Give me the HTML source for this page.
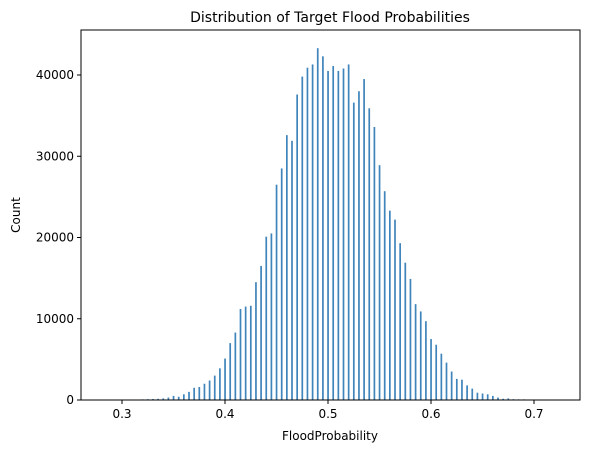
<!DOCTYPE html>
<html><head><meta charset="utf-8"><style>
body{margin:0;background:#fff;font-family:"Liberation Sans","DejaVu Sans",sans-serif}
svg text{font-family:"DejaVu Sans","Liberation Sans",sans-serif}
</style></head><body>
<svg id="chart" width="589" height="453" xmlns="http://www.w3.org/2000/svg">
<text x="330" y="22" font-size="14" text-anchor="middle">Distribution of Target Flood Probabilities</text>
<g id="bars"></g>
<g id="axes"></g>
<rect x="81" y="30" width="499" height="370" fill="none" stroke="#000" stroke-width="1"/>
<text x="330" y="440" font-size="12" text-anchor="middle">FloodProbability</text>
<text x="20" y="215" font-size="12" text-anchor="middle" transform="rotate(-90 20 215)">Count</text>
</svg>
<script>
const binStarts = [0.285,0.29,0.295,0.30,0.305,0.31,0.315,0.32,0.325,0.33,0.335,0.34,0.345,0.35,0.355,0.36,0.365,0.37,0.375,0.38,0.385,0.39,0.395,0.40,0.405,0.41,0.415,0.42,0.425,0.43,0.435,0.44,0.445,0.45,0.455,0.46,0.465,0.47,0.475,0.48,0.485,0.49,0.495,0.50,0.505,0.51,0.515,0.52,0.525,0.53,0.535,0.54,0.545,0.55,0.555,0.56,0.565,0.57,0.575,0.58,0.585,0.59,0.595,0.60,0.605,0.61,0.615,0.62,0.625,0.63,0.635,0.64,0.645,0.65,0.655,0.66,0.665,0.67,0.675,0.68,0.685,0.69,0.695,0.70,0.705,0.71,0.715,0.72,0.725];
const counts = [5,5,10,15,20,30,60,80,100,120,150,200,300,500,400,700,1000,1500,1600,2000,2400,3000,3900,5100,7000,8300,11200,11500,11600,14500,16500,20100,20500,26500,28500,32600,31900,37600,39800,40900,41300,43300,42300,40500,41100,40500,40800,41300,36600,38000,39500,35900,33600,28900,25700,23300,22200,19300,16900,14900,11800,10900,9700,7500,6800,5700,4600,3500,2600,2500,1800,1400,900,800,700,500,300,150,200,100,80,80,60,50,30,20,15,10,20];
const xTicks = [0.3,0.4,0.5,0.6,0.7];
const yTicks = [0,10000,20000,30000,40000];
const xs = v => 122 + (v - 0.3) * 1030;
const ys = c => 400 - c * 325 / 40000;
const NS = "http://www.w3.org/2000/svg";
const bars = document.getElementById('bars');
binStarts.forEach((b, i) => {
  const r = document.createElementNS(NS, 'rect');
  const h = 400 - ys(counts[i]);
  r.setAttribute('x', xs(b) - 0.8);
  r.setAttribute('y', ys(counts[i]));
  r.setAttribute('width', 1.7);
  r.setAttribute('height', h);
  r.setAttribute('fill', '#3f84bb');
  
  
  bars.appendChild(r);
});
const axes = document.getElementById('axes');
xTicks.forEach(t => {
  const l = document.createElementNS(NS, 'line');
  l.setAttribute('x1', xs(t)); l.setAttribute('x2', xs(t));
  l.setAttribute('y1', 400); l.setAttribute('y2', 404);
  l.setAttribute('stroke', '#000');
  
  
  axes.appendChild(l);
  const tx = document.createElementNS(NS, 'text');
  tx.setAttribute('x', xs(t)); tx.setAttribute('y', 418);
  tx.setAttribute('font-size', '12'); tx.setAttribute('text-anchor', 'middle');
  tx.textContent = t.toFixed(1);
  
  
  axes.appendChild(tx);
});
yTicks.forEach(t => {
  const l = document.createElementNS(NS, 'line');
  l.setAttribute('x1', 77); l.setAttribute('x2', 81);
  l.setAttribute('y1', ys(t)); l.setAttribute('y2', ys(t));
  l.setAttribute('stroke', '#000');
  
  
  axes.appendChild(l);
  const tx = document.createElementNS(NS, 'text');
  tx.setAttribute('x', 74); tx.setAttribute('y', ys(t) + 4);
  tx.setAttribute('font-size', '12'); tx.setAttribute('text-anchor', 'end');
  tx.textContent = String(t);
  
  
  axes.appendChild(tx);
});
</script>
</body></html>
